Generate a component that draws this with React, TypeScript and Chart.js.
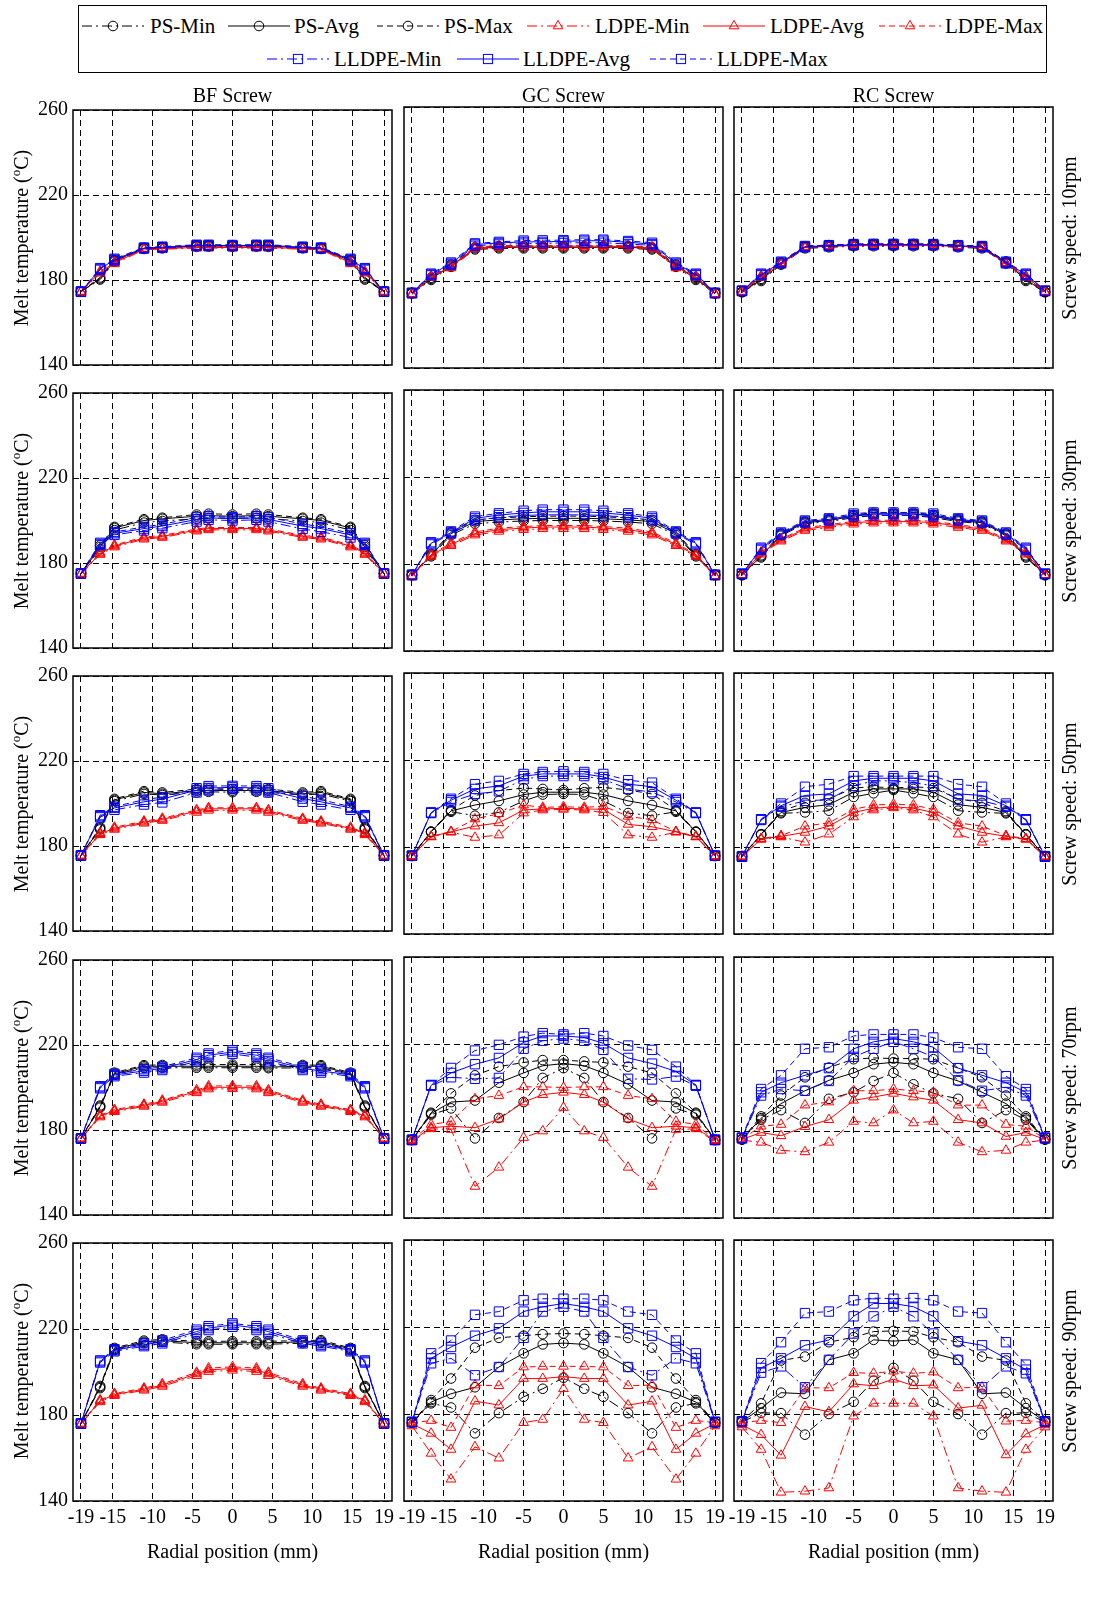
import React, { useEffect, useRef } from 'react';
import { Chart, registerables, ChartConfiguration } from 'chart.js';

Chart.register(...registerables);

const FONT = "'Liberation Serif', 'Times New Roman', serif";

// radial positions of the thermocouples (mm), one set per screw
const xBF = [-19, -16.6, -14.8, -11.1, -8.8, -4.5, -3, 0, 3, 4.5, 8.8, 11.1, 14.8, 16.6, 19];
const xGC = [-19, -16.6, -14.1, -11.1, -8.1, -5, -2.6, 0, 2.6, 5, 8.1, 11.1, 14.1, 16.6, 19];
const xRC = [-19, -16.6, -14.1, -11.1, -8.1, -5, -2.5, 0, 2.5, 5, 8.1, 11.1, 14.1, 16.6, 19];

const xTicks = [-19, -15, -10, -5, 0, 5, 10, 15, 19];
const yTicks = [140, 180, 220, 260];
const screwNames = ['BF Screw', 'GC Screw', 'RC Screw'];
const speedNames = ['10rpm', '30rpm', '50rpm', '70rpm', '90rpm'];

// ---- BF screw ----
const bf10PsMin = [174.5, 180.2, 188.6, 194.6, 194.9, 195.6, 195.7, 195.6, 195.7, 195.6, 194.9, 194.6, 188.6, 180.2, 174.5];
const bf10PsAvg = [174.5, 180.7, 189.0, 194.9, 195.2, 196.0, 196.0, 196.0, 196.0, 196.0, 195.2, 194.9, 189.0, 180.7, 174.5];
const bf10PsMax = [174.6, 181.2, 189.4, 195.2, 195.5, 196.3, 196.4, 196.4, 196.4, 196.3, 195.5, 195.2, 189.4, 181.2, 174.6];
const bf10LdpeMin = [174.3, 183.2, 187.6, 194.3, 194.5, 195.0, 195.0, 195.0, 195.0, 195.0, 194.5, 194.3, 187.6, 183.2, 174.3];
const bf10LdpeAvg = [174.5, 183.7, 188.1, 194.6, 194.8, 195.3, 195.3, 195.3, 195.3, 195.3, 194.8, 194.6, 188.1, 183.7, 174.5];
const bf10LdpeMax = [174.6, 184.1, 188.5, 194.9, 195.1, 195.6, 195.7, 195.6, 195.7, 195.6, 195.1, 194.9, 188.5, 184.1, 174.6];
const bf10LldpeMin = [174.4, 184.8, 189.2, 194.8, 195.1, 196.0, 196.0, 195.9, 196.0, 196.0, 195.1, 194.8, 189.2, 184.8, 174.4];
const bf10LldpeAvg = [174.5, 185.2, 189.6, 195.0, 195.4, 196.3, 196.3, 196.2, 196.3, 196.3, 195.4, 195.0, 189.6, 185.2, 174.5];
const bf10LldpeMax = [174.6, 185.6, 190.0, 195.3, 195.7, 196.6, 196.6, 196.5, 196.6, 196.6, 195.7, 195.3, 190.0, 185.6, 174.6];

const bf30PsMin = [175, 186.5, 195.5, 199, 199.8, 200.8, 201.2, 201, 201.2, 200.8, 199.8, 199, 195.5, 186.5, 175];
const bf30PsAvg = [175, 187.5, 196.5, 200, 200.8, 202, 202.3, 202, 202.3, 202, 200.8, 200, 196.5, 187.5, 175];
const bf30PsMax = [175.2, 188.3, 197, 200.6, 201.3, 202.8, 203.2, 202.8, 203.2, 202.8, 201.3, 200.6, 197, 188.3, 175.2];
const bf30LdpeMin = [174.8, 184, 187.5, 191.2, 192, 195, 195.6, 195.6, 195.6, 195, 192, 191.2, 187.5, 184, 174.8];
const bf30LdpeAvg = [175, 184.5, 188, 191.7, 192.5, 195.5, 196.2, 196.2, 196.2, 195.5, 192.5, 191.7, 188, 184.5, 175];
const bf30LdpeMax = [175.1, 185, 188.5, 192.2, 193, 196, 196.7, 196.7, 196.7, 196, 193, 192.2, 188.5, 185, 175.1];
const bf30LldpeMin = [174.9, 188.5, 193.2, 195.3, 196.4, 199.5, 200.3, 200, 200.3, 199.5, 196, 194.7, 192, 188.5, 174.9];
const bf30LldpeAvg = [175, 189, 194, 196.2, 197.4, 200.5, 201.2, 201, 201.2, 200.5, 197.4, 196.2, 193.2, 189, 175];
const bf30LldpeMax = [175.1, 189.5, 194.6, 197, 198.2, 201.5, 202, 201.5, 202, 201.5, 198.4, 197, 194, 189.5, 175.1];

const bf50PsMin = [175.5, 187.8, 201.1, 204.5, 204, 205.2, 205.5, 205.3, 205.5, 205.2, 204, 204.5, 201.1, 187.8, 175.5];
const bf50PsAvg = [175.5, 188.3, 201.7, 205.2, 204.6, 206, 206.2, 206, 206.2, 206, 204.6, 205.2, 201.7, 188.3, 175.5];
const bf50PsMax = [175.6, 188.8, 202.2, 205.8, 205.2, 206.8, 207, 206.8, 207, 206.8, 205.2, 205.8, 202.2, 188.8, 175.6];
const bf50LdpeMin = [175.3, 185.3, 187.8, 190.7, 192, 195.8, 196.8, 196.8, 196.8, 195.8, 192, 190.7, 187.8, 185.3, 175.3];
const bf50LdpeAvg = [175.5, 185.8, 188.3, 191.2, 192.5, 196.5, 197.5, 197.5, 197.5, 196.5, 192.5, 191.2, 188.3, 185.8, 175.5];
const bf50LdpeMax = [175.6, 186.2, 188.8, 191.7, 193, 197, 198, 198, 198, 197, 193, 191.7, 188.8, 186.2, 175.6];
const bf50LldpeMin = [175.4, 193.5, 197, 199.5, 200.5, 205.2, 206.2, 206.8, 206.2, 205.2, 200.8, 199.5, 197, 193.5, 175.4];
const bf50LldpeAvg = [175.5, 194, 197.9, 200.8, 202.1, 206.3, 207.3, 207.6, 207.3, 206.3, 202.3, 200.8, 197.9, 194, 175.5];
const bf50LldpeMax = [175.6, 194.5, 198.5, 201.8, 203, 207.2, 208.2, 208.3, 208.2, 207.2, 203.4, 201.8, 198.5, 194.5, 175.6];

const bf70PsMin = [176, 190.5, 206, 209.3, 209.3, 209.3, 209.3, 209.3, 209.3, 209.1, 209.3, 209.3, 206, 190.5, 176];
const bf70PsAvg = [176, 191, 206.5, 210, 210, 210, 210, 210, 210, 209.6, 210, 210, 206.5, 191, 176];
const bf70PsMax = [176.1, 191.5, 207, 210.5, 210.6, 210.8, 210.8, 210.8, 210.8, 210.4, 210.6, 210.5, 207, 191.5, 176.1];
const bf70LdpeMin = [175.8, 186.1, 188.6, 191.1, 193, 197.5, 199.3, 199.4, 199.3, 197.5, 193, 191.1, 188.6, 186.1, 175.8];
const bf70LdpeAvg = [176, 186.6, 189.1, 191.6, 193.5, 198.2, 200.1, 200.1, 200.1, 198.2, 193.5, 191.6, 189.1, 186.6, 176];
const bf70LdpeMax = [176.1, 187, 189.6, 192.1, 194, 198.8, 200.7, 200.8, 200.7, 198.8, 194, 192.1, 189.6, 187, 176.1];
const bf70LldpeMin = [175.9, 199.6, 205.3, 207, 208.2, 212.3, 214.3, 215.8, 214.3, 212.3, 208.2, 207, 205.3, 199.6, 175.9];
const bf70LldpeAvg = [176, 200.1, 205.9, 207.8, 209, 213.2, 215.2, 216.7, 215.2, 213.2, 209, 207.8, 205.9, 200.1, 176];
const bf70LldpeMax = [176.1, 200.6, 206.5, 208.6, 209.8, 214, 216, 217.5, 216, 214, 209.8, 208.6, 206.5, 200.6, 176.1];

const bf90PsMin = [176, 192.5, 210.2, 213.4, 214, 212.9, 212.9, 212.9, 212.9, 212.9, 213.4, 213.6, 210.2, 192.5, 176];
const bf90PsAvg = [176, 193, 210.7, 214, 214.6, 213.6, 213.6, 213.6, 213.6, 213.6, 214, 214.2, 210.7, 193, 176];
const bf90PsMax = [176.1, 193.5, 211.2, 214.6, 215.2, 214.3, 214.3, 214.3, 214.3, 214.3, 214.6, 214.8, 211.2, 193.5, 176.1];
const bf90LdpeMin = [175.8, 186.1, 189, 191.5, 193.3, 198.3, 200.2, 200.8, 200.2, 198.3, 193.3, 191.5, 189, 186.1, 175.8];
const bf90LdpeAvg = [176, 186.6, 189.5, 192, 193.9, 199.1, 201, 201.6, 201, 199.1, 193.9, 192, 189.5, 186.6, 176];
const bf90LdpeMax = [176.1, 187, 190, 192.5, 194.5, 199.8, 201.8, 202.4, 201.8, 199.8, 194.5, 192.5, 190, 187, 176.1];
const bf90LldpeMin = [175.9, 204.4, 209.6, 212, 213.3, 217.9, 219.5, 221, 219.5, 217.9, 213.3, 212, 209.6, 204.4, 175.9];
const bf90LldpeAvg = [176, 204.9, 210.1, 212.7, 214, 218.8, 220.4, 221.9, 220.4, 218.8, 214, 212.7, 210.1, 204.9, 176];
const bf90LldpeMax = [176.1, 205.4, 210.6, 213.4, 214.7, 219.7, 221.3, 222.6, 221.3, 219.7, 214.7, 213.4, 210.6, 205.4, 176.1];

// ---- GC screw ----
const gc10PsMin = [174.2, 180.5, 186.5, 194.5, 195, 195, 195, 195, 195, 195, 195, 194.5, 186.5, 180.5, 174.2];
const gc10PsAvg = [174.5, 181, 187, 195, 195.5, 195.5, 195.5, 195.5, 195.5, 195.5, 195.5, 195, 187, 181, 174.5];
const gc10PsMax = [174.6, 181.5, 187.5, 195.5, 196, 196, 196, 196, 196, 196, 196, 195.5, 187.5, 181.5, 174.6];
const gc10LdpeMin = [173.8, 181.6, 186, 194.8, 195.3, 195.5, 195.5, 195.5, 195.5, 195.5, 195.3, 194.8, 186, 181.6, 173.8];
const gc10LdpeAvg = [174, 182, 186.5, 195.3, 195.8, 196, 196, 196, 196, 196, 195.8, 195.3, 186.5, 182, 174];
const gc10LdpeMax = [174.2, 182.4, 187, 195.7, 196.2, 196.4, 196.4, 196.4, 196.4, 196.4, 196.2, 195.7, 187, 182.4, 174.2];
const gc10LldpeMin = [174.3, 182.6, 187.5, 196.2, 196.8, 197.2, 197.3, 197.5, 197.6, 197.6, 197, 196.4, 187.5, 182.6, 174.3];
const gc10LldpeAvg = [174.5, 183, 188, 196.8, 197.5, 198, 198, 198.2, 198.5, 198.5, 197.8, 197, 188, 183, 174.5];
const gc10LldpeMax = [174.6, 183.4, 188.5, 197.3, 198, 198.6, 198.7, 198.8, 199, 199, 198.4, 197.6, 188.5, 183.4, 174.6];

const gc30PsMin = [174.8, 183.5, 193.3, 198.5, 199.3, 199.8, 200, 200, 200, 199.8, 199.3, 198.5, 193.3, 183.5, 174.8];
const gc30PsAvg = [175, 184, 194, 199.5, 200.3, 200.8, 201, 201, 201, 200.8, 200.3, 199.5, 194, 184, 175];
const gc30PsMax = [175.1, 184.5, 194.6, 200.3, 201.2, 201.7, 202, 202, 202, 201.7, 201.2, 200.3, 194.6, 184.5, 175.1];
const gc30LdpeMin = [174.3, 183.5, 188.4, 193.3, 195, 195.8, 196.2, 196.2, 196.2, 195.8, 195, 193.3, 188.4, 183.5, 174.3];
const gc30LdpeAvg = [174.5, 184, 189, 194, 195.8, 196.5, 197, 197, 197, 196.5, 195.8, 194, 189, 184, 174.5];
const gc30LdpeMax = [174.6, 184.5, 189.6, 194.7, 196.5, 197.2, 197.7, 197.7, 197.7, 197.2, 196.5, 194.7, 189.6, 184.5, 174.6];
const gc30LldpeMin = [174.8, 189, 194, 200, 201.5, 202.3, 202.6, 202.6, 202.6, 202.3, 201.5, 200, 194, 189, 174.8];
const gc30LldpeAvg = [175, 189.5, 194.5, 201, 202.5, 203.5, 204, 204, 204, 203.5, 202.5, 201, 194.5, 189.5, 175];
const gc30LldpeMax = [175.1, 190, 195, 201.8, 203.3, 204.5, 205, 205, 205, 204.5, 203.3, 201.8, 195, 190, 175.1];

const gc50PsMin = [175.8, 186.8, 196.2, 194.4, 195.9, 201.2, 204.1, 204.4, 204.1, 201.2, 195.6, 194.4, 196.2, 186.8, 175.8];
const gc50PsAvg = [176, 187, 196.6, 199.3, 201.2, 204.1, 205.2, 205.2, 205.2, 204.1, 201.2, 199.3, 196.6, 187, 176];
const gc50PsMax = [176, 187.1, 197, 203.7, 205.9, 207.1, 206.7, 206.2, 207, 207.4, 206.2, 204.4, 197, 187.1, 176];
const gc50LdpeMin = [175.6, 184.6, 186.8, 184.4, 185.5, 195.6, 197, 197.3, 197, 195.8, 185.5, 184.4, 186.8, 184.6, 175.6];
const gc50LdpeAvg = [175.8, 184.8, 187, 189.6, 191.1, 197, 197.5, 197.8, 197.5, 197.3, 190.4, 189.3, 187, 184.8, 175.8];
const gc50LdpeMax = [176, 184.9, 187.1, 192.9, 195.3, 199.3, 198.2, 198.5, 198.2, 198.8, 194.1, 192.5, 187.1, 184.9, 176];
const gc50LldpeMin = [176, 195.6, 200.7, 204.4, 205.6, 211.1, 212.6, 212.6, 212.6, 211.1, 206.7, 205.2, 200.7, 195.6, 176];
const gc50LldpeAvg = [176, 195.8, 201.5, 206.7, 208.1, 212.6, 213.6, 213.6, 213.6, 212.2, 208.9, 207.7, 201.5, 195.8, 176];
const gc50LldpeMax = [176, 195.9, 202.2, 208.9, 210.4, 213.6, 214.5, 214.8, 214.5, 213.6, 210.7, 209.6, 202.2, 195.9, 176];

const gc70PsMin = [175.8, 187.5, 190.4, 176.6, 186, 193.3, 204.4, 208.9, 204.4, 193.3, 186, 176.6, 190.4, 187.5, 175.8];
const gc70PsAvg = [176, 188, 193.3, 194, 202.2, 206.7, 210, 211, 210, 206.7, 201.5, 194, 193.3, 188, 176];
const gc70PsMax = [176, 188.4, 197.3, 205.6, 209.6, 211.5, 212.6, 212.6, 212, 211.5, 209.6, 206.7, 197.3, 188.4, 176];
const gc70LdpeMin = [175, 181, 180.7, 154.5, 163.3, 177, 180, 190.8, 180, 177, 163.3, 154.5, 180.7, 181, 175];
const gc70LdpeAvg = [175.5, 181.5, 182.2, 181.5, 185.5, 193.3, 196.7, 197.8, 196.7, 193.3, 185.5, 181.5, 182.2, 181.5, 175.5];
const gc70LdpeMax = [176, 183, 184.4, 194.8, 196.3, 200.3, 200.3, 200, 200.3, 200.3, 196.3, 194.8, 184.4, 183, 176];
const gc70LldpeMin = [175.8, 200.8, 204.7, 204, 204.4, 217.8, 221.5, 222.5, 221.5, 217.3, 204, 203.7, 205, 200.8, 175.8];
const gc70LldpeAvg = [176, 201, 206.7, 210.7, 213.6, 220.7, 223.7, 223.7, 223, 220.3, 213.6, 211, 207.4, 201, 176];
const gc70LldpeMax = [176, 201.2, 209, 217, 219.6, 223.4, 225, 224.4, 225, 223.7, 219.3, 217.3, 209.6, 201.2, 176];

const gc90PsMin = [175.8, 184.9, 183, 171.1, 180.4, 187.9, 191.6, 196.7, 191.6, 187.9, 180.4, 171.1, 183, 184.9, 175.8];
const gc90PsAvg = [176, 185.5, 189.3, 192.3, 201.6, 207.9, 212, 212.6, 212, 207.9, 201.6, 192.3, 189.3, 185.5, 176];
const gc90PsMax = [176, 186.4, 196.3, 210.5, 215, 216, 216.7, 217, 216.7, 216, 215, 210.5, 196.3, 186.4, 176];
const gc90LdpeMin = [174.5, 161.9, 150, 164.9, 159.7, 176, 177.5, 191.6, 177.5, 176, 159.7, 164.9, 150, 161.9, 174.5];
const gc90LdpeAvg = [175.5, 171.1, 163.7, 185.9, 184.1, 196.3, 196.3, 197.2, 196.3, 196.3, 184.1, 185.9, 163.7, 171.1, 175.5];
const gc90LdpeMax = [176, 177, 173.8, 193.3, 193, 201.6, 201.9, 201.9, 201.9, 201.6, 193, 193.3, 173.8, 177, 176];
const gc90LldpeMin = [176.2, 203.3, 205.6, 197.8, 201.6, 215, 227.1, 229.3, 227.1, 215, 201.6, 197.8, 205.6, 203.3, 176.2];
const gc90LldpeAvg = [176.4, 205.6, 210.8, 216, 219.4, 227.1, 229.3, 230.8, 229.3, 227.1, 219.4, 216, 210.8, 205.6, 176.4];
const gc90LldpeMax = [176.4, 207.9, 213.8, 225.6, 227.1, 232.3, 233, 233, 233, 232.3, 227.1, 225.6, 213.8, 207.9, 176.4];

// ---- RC screw ----
const rc10PsMin = [174.8, 180, 187.5, 195, 195.5, 196, 196, 196, 196, 196, 195.5, 195, 188, 180, 174.8];
const rc10PsAvg = [175, 180.5, 188, 195.5, 196, 196.5, 196.5, 196.5, 196.5, 196.5, 196, 195.5, 188.5, 180.5, 175];
const rc10PsMax = [175.1, 181, 188.5, 196, 196.5, 197, 197, 197, 197, 197, 196.5, 196, 189, 181, 175.1];
const rc10LdpeMin = [174.7, 181.6, 187.6, 195.2, 195.7, 196, 196, 196, 196, 196, 195.7, 195.2, 187.6, 181.6, 174.7];
const rc10LdpeAvg = [175, 182, 188, 195.5, 196, 196.3, 196.3, 196.3, 196.3, 196.3, 196, 195.5, 188, 182, 175];
const rc10LdpeMax = [175.2, 182.4, 188.4, 195.8, 196.3, 196.6, 196.6, 196.6, 196.6, 196.6, 196.3, 195.8, 188.4, 182.4, 175.2];
const rc10LldpeMin = [175.3, 182.6, 188.1, 195.5, 195.9, 196.4, 196.5, 196.5, 196.5, 196.4, 195.9, 195.5, 188.1, 182.6, 175.3];
const rc10LldpeAvg = [175.5, 183, 188.5, 195.8, 196.2, 196.7, 196.8, 196.8, 196.8, 196.7, 196.2, 195.8, 188.5, 183, 175.5];
const rc10LldpeMax = [175.6, 183.4, 188.9, 196.1, 196.5, 197, 197.1, 197.1, 197.1, 197, 196.5, 196.1, 188.9, 183.4, 175.6];

const rc30PsMin = [174.8, 183, 193, 198.5, 199.5, 201.3, 202.3, 202.3, 202.3, 201.3, 199.5, 198.5, 193, 183, 174.8];
const rc30PsAvg = [175, 183.5, 193.5, 199, 200, 202, 203, 203, 203, 202, 200, 199, 193.5, 183.5, 175];
const rc30PsMax = [175.1, 184, 194, 199.5, 200.5, 202.6, 203.6, 203.6, 203.6, 202.6, 200.5, 199.5, 194, 184, 175.1];
const rc30LdpeMin = [174.8, 184.5, 190.5, 195.4, 196.8, 198.3, 198.8, 198.8, 198.8, 198.3, 196.8, 195.4, 190.5, 184.5, 174.8];
const rc30LdpeAvg = [175, 185, 191, 196, 197.5, 199, 199.5, 199.5, 199.5, 199, 197.5, 196, 191, 185, 175];
const rc30LdpeMax = [175.1, 185.5, 191.5, 196.6, 198.1, 199.6, 200.1, 200.1, 200.1, 199.6, 198.1, 196.6, 191.5, 185.5, 175.1];
const rc30LldpeMin = [175.3, 186.5, 193.5, 199, 200, 201.8, 202.3, 202.3, 202.3, 201.8, 200, 199, 193.5, 186.5, 175.3];
const rc30LldpeAvg = [175.5, 187, 194, 199.5, 200.5, 202.5, 203, 203, 203, 202.5, 200.5, 199.5, 194, 187, 175.5];
const rc30LldpeMax = [175.6, 187.5, 194.5, 200, 201, 203.2, 203.7, 203.7, 203.7, 203.2, 201, 200, 194.5, 187.5, 175.6];

const rc50PsMin = [175.5, 185.6, 195.5, 195.9, 196.7, 203, 204.7, 206.2, 204.7, 203, 196.7, 195.9, 195.5, 185.6, 175.5];
const rc50PsAvg = [175.6, 185.8, 195.9, 198.2, 199.5, 205.2, 206.7, 206.7, 206.7, 205.2, 199.5, 198.2, 195.9, 185.8, 175.6];
const rc50PsMax = [175.8, 185.9, 196.5, 200.3, 202.2, 207.1, 207.7, 207.1, 207.7, 207.1, 202.2, 200.3, 196.5, 185.9, 175.8];
const rc50LdpeMin = [175.5, 183.5, 184.6, 182.2, 185.9, 193.8, 197, 198, 197, 193.8, 185.9, 182.2, 184.6, 183.5, 175.5];
const rc50LdpeAvg = [175.6, 183.7, 184.9, 186.7, 189.6, 195.9, 197.8, 198.5, 197.8, 195.9, 189.6, 186.7, 184.9, 183.7, 175.6];
const rc50LdpeMax = [175.8, 183.9, 185.2, 189.6, 191.1, 197.3, 199.3, 199.7, 199.3, 197.3, 191.1, 189.6, 185.2, 183.9, 175.8];
const rc50LldpeMin = [175.5, 192.4, 198.5, 201.2, 201.8, 208.1, 210.4, 210.4, 209.6, 208.1, 201.8, 201.2, 198.5, 192.4, 175.5];
const rc50LldpeAvg = [175.6, 192.6, 199, 203.7, 204.4, 210.4, 211.6, 211.6, 211.6, 210.4, 204.4, 203.7, 199, 192.6, 175.6];
const rc50LldpeMax = [175.8, 192.8, 200, 207.7, 208.9, 212.6, 212.6, 212.6, 212.6, 212.6, 208.9, 207.7, 200, 192.8, 175.8];

const rc70PsMin = [176, 185.2, 189.6, 183.7, 194.8, 197.8, 203, 206.7, 201.5, 197.3, 194.8, 183.7, 189.6, 185.2, 176];
const rc70PsAvg = [176.2, 185.9, 192.6, 198.5, 203.3, 206.7, 210.7, 211.6, 210.7, 206.7, 203, 197.8, 192.6, 185.9, 176.2];
const rc70PsMax = [176.3, 186.7, 196.3, 204.7, 209.2, 213, 213.6, 213.3, 213.3, 213, 208.9, 204.7, 196.3, 186.7, 176.3];
const rc70LdpeMin = [175.8, 174.8, 171.1, 170.4, 174.8, 184.4, 183.7, 189.6, 183.7, 184.4, 174.8, 170.4, 171.1, 174.8, 175.8];
const rc70LdpeAvg = [176.1, 179.3, 177.8, 182, 185.2, 194.1, 195.6, 197.3, 195.6, 194.1, 185.2, 183.7, 177.5, 179.3, 176.1];
const rc70LdpeMax = [176.3, 182.2, 183, 191.9, 193.3, 198.5, 198.5, 199.3, 198.5, 197.8, 191.9, 191.9, 183, 182.2, 176.3];
const rc70LldpeMin = [176.6, 196.3, 199.3, 198.5, 203, 214.1, 217.8, 221, 217.8, 214.1, 203.3, 198.5, 200, 196.3, 176.6];
const rc70LldpeAvg = [176.8, 197.8, 202.2, 205.6, 208.9, 217.8, 221, 222.5, 221, 218.5, 208.9, 205.6, 202.2, 197.8, 176.8];
const rc70LldpeMax = [177, 199.3, 205.6, 217.8, 218.5, 223.7, 224.4, 224.4, 224.4, 223, 218.5, 217.8, 205.2, 199.3, 177];

const rc90PsMin = [176.3, 180.5, 180.4, 170.5, 180, 185.6, 195.3, 201.2, 195.3, 185.6, 180, 170.5, 180.4, 180.5, 176.3];
const rc90PsAvg = [176.5, 182.7, 189.8, 189.3, 204.9, 207.9, 214.1, 213.5, 214.1, 207.9, 204.9, 189.3, 189.8, 182.7, 176.5];
const rc90PsMax = [176.7, 184.9, 204.6, 206.4, 213, 215.3, 217.9, 218.2, 217.9, 215.3, 213, 206.4, 204.6, 184.9, 176.7];
const rc90LdpeMin = [174, 163.7, 144, 144.5, 146, 179, 184.9, 184.9, 184.9, 179, 146, 144.5, 144, 163.7, 174];
const rc90LdpeAvg = [175, 170.5, 161, 183.4, 181, 193.8, 193, 196, 193, 193.3, 182.7, 184, 161.2, 170.8, 175];
const rc90LdpeMax = [176, 177, 176, 192, 192, 199, 198.7, 199.7, 198.7, 199.3, 192, 192.3, 176.7, 177, 176];
const rc90LldpeMin = [176.5, 199, 201.9, 192.3, 204.9, 217, 224.9, 229.3, 224.9, 217, 204.9, 192.3, 201.9, 198.7, 176.5];
const rc90LldpeAvg = [176.6, 201.2, 205.6, 211.6, 214, 224.9, 230.8, 230.8, 229.3, 224.9, 213.5, 211.6, 205.6, 200.4, 176.6];
const rc90LldpeMax = [176.7, 203.4, 213, 226.4, 227.1, 232.3, 233.3, 233, 233.3, 232.3, 227.1, 226.4, 213, 202.7, 176.7];

type Trio = [number[], number[], number[]]; // min, avg, max
interface PanelData { x: number[]; ps: Trio; ldpe: Trio; lldpe: Trio }

const panels: PanelData[][] = [
  [
    { x: xBF, ps: [bf10PsMin, bf10PsAvg, bf10PsMax], ldpe: [bf10LdpeMin, bf10LdpeAvg, bf10LdpeMax], lldpe: [bf10LldpeMin, bf10LldpeAvg, bf10LldpeMax] },
    { x: xGC, ps: [gc10PsMin, gc10PsAvg, gc10PsMax], ldpe: [gc10LdpeMin, gc10LdpeAvg, gc10LdpeMax], lldpe: [gc10LldpeMin, gc10LldpeAvg, gc10LldpeMax] },
    { x: xRC, ps: [rc10PsMin, rc10PsAvg, rc10PsMax], ldpe: [rc10LdpeMin, rc10LdpeAvg, rc10LdpeMax], lldpe: [rc10LldpeMin, rc10LldpeAvg, rc10LldpeMax] },
  ],
  [
    { x: xBF, ps: [bf30PsMin, bf30PsAvg, bf30PsMax], ldpe: [bf30LdpeMin, bf30LdpeAvg, bf30LdpeMax], lldpe: [bf30LldpeMin, bf30LldpeAvg, bf30LldpeMax] },
    { x: xGC, ps: [gc30PsMin, gc30PsAvg, gc30PsMax], ldpe: [gc30LdpeMin, gc30LdpeAvg, gc30LdpeMax], lldpe: [gc30LldpeMin, gc30LldpeAvg, gc30LldpeMax] },
    { x: xRC, ps: [rc30PsMin, rc30PsAvg, rc30PsMax], ldpe: [rc30LdpeMin, rc30LdpeAvg, rc30LdpeMax], lldpe: [rc30LldpeMin, rc30LldpeAvg, rc30LldpeMax] },
  ],
  [
    { x: xBF, ps: [bf50PsMin, bf50PsAvg, bf50PsMax], ldpe: [bf50LdpeMin, bf50LdpeAvg, bf50LdpeMax], lldpe: [bf50LldpeMin, bf50LldpeAvg, bf50LldpeMax] },
    { x: xGC, ps: [gc50PsMin, gc50PsAvg, gc50PsMax], ldpe: [gc50LdpeMin, gc50LdpeAvg, gc50LdpeMax], lldpe: [gc50LldpeMin, gc50LldpeAvg, gc50LldpeMax] },
    { x: xRC, ps: [rc50PsMin, rc50PsAvg, rc50PsMax], ldpe: [rc50LdpeMin, rc50LdpeAvg, rc50LdpeMax], lldpe: [rc50LldpeMin, rc50LldpeAvg, rc50LldpeMax] },
  ],
  [
    { x: xBF, ps: [bf70PsMin, bf70PsAvg, bf70PsMax], ldpe: [bf70LdpeMin, bf70LdpeAvg, bf70LdpeMax], lldpe: [bf70LldpeMin, bf70LldpeAvg, bf70LldpeMax] },
    { x: xGC, ps: [gc70PsMin, gc70PsAvg, gc70PsMax], ldpe: [gc70LdpeMin, gc70LdpeAvg, gc70LdpeMax], lldpe: [gc70LldpeMin, gc70LldpeAvg, gc70LldpeMax] },
    { x: xRC, ps: [rc70PsMin, rc70PsAvg, rc70PsMax], ldpe: [rc70LdpeMin, rc70LdpeAvg, rc70LdpeMax], lldpe: [rc70LldpeMin, rc70LldpeAvg, rc70LldpeMax] },
  ],
  [
    { x: xBF, ps: [bf90PsMin, bf90PsAvg, bf90PsMax], ldpe: [bf90LdpeMin, bf90LdpeAvg, bf90LdpeMax], lldpe: [bf90LldpeMin, bf90LldpeAvg, bf90LldpeMax] },
    { x: xGC, ps: [gc90PsMin, gc90PsAvg, gc90PsMax], ldpe: [gc90LdpeMin, gc90LdpeAvg, gc90LdpeMax], lldpe: [gc90LldpeMin, gc90LldpeAvg, gc90LldpeMax] },
    { x: xRC, ps: [rc90PsMin, rc90PsAvg, rc90PsMax], ldpe: [rc90LdpeMin, rc90LdpeAvg, rc90LdpeMax], lldpe: [rc90LldpeMin, rc90LldpeAvg, rc90LldpeMax] },
  ],
];

// series styles (LLDPE listed first so it is drawn on top)
const materials = [
  { key: 'lldpe' as const, name: 'LLDPE', color: '#0000ff', marker: 'rect', radius: 6.6 },
  { key: 'ldpe' as const, name: 'LDPE', color: '#ff0000', marker: 'triangle', radius: 5.6 },
  { key: 'ps' as const, name: 'PS', color: '#000000', marker: 'circle', radius: 4.8 },
];
const stats = [
  { name: 'Min', dash: [10, 4, 2, 4] },
  { name: 'Avg', dash: [] as number[] },
  { name: 'Max', dash: [6, 4] },
];

// layout (px)
const PLOT_W = 319;
const PLOT_H = 261;
const colLeft = [73, 404, 734];
const rowTop = [107, 390, 673, 957, 1240];
const PADX = 18;
const PADY = 14;

const boxPlugin = {
  id: 'panelBox',
  afterDraw(chart: Chart) {
    const { ctx, chartArea: a } = chart;
    ctx.save();
    ctx.strokeStyle = '#000';
    ctx.lineWidth = 1.5;
    ctx.setLineDash([]);
    ctx.strokeRect(a.left, a.top, a.right - a.left, a.bottom - a.top);
    ctx.restore();
  },
};

const Panel: React.FC<{ data: PanelData; row: number; col: number }> = ({ data, row, col }) => {
  const canvasRef = useRef<HTMLCanvasElement>(null);
  const leftPad = col === 0 ? 46 : 0;
  const bottomPad = row === 4 ? 30 : 0;
  const width = PLOT_W + leftPad + 2 * PADX;
  const height = PLOT_H + bottomPad + 2 * PADY;

  useEffect(() => {
    if (!canvasRef.current) return;
    const datasets: any[] = [];
    materials.forEach((m) => {
      const trio = data[m.key];
      stats.forEach((s, si) => {
        datasets.push({
          label: `${m.name}-${s.name}`,
          data: data.x.map((x, i) => ({ x, y: trio[si][i] })),
          borderColor: m.color,
          borderWidth: 1,
          borderDash: s.dash,
          pointStyle: m.marker,
          pointRadius: m.radius,
          pointBorderColor: m.color,
          pointBackgroundColor: 'rgba(0,0,0,0)',
          pointBorderWidth: 1,
          tension: 0,
          fill: false,
        });
      });
    });

    const tickFont = { family: FONT, size: 20 };
    const config: ChartConfiguration<'line'> = {
      type: 'line',
      data: { datasets },
      options: {
        animation: false,
        responsive: false,
        events: [],
        layout: { padding: { left: PADX, right: PADX, top: PADY, bottom: PADY } },
        plugins: { legend: { display: false }, tooltip: { enabled: false } },
        scales: {
          x: {
            type: 'linear',
            min: -20,
            max: 20,
            afterBuildTicks: (axis: any) => { axis.ticks = xTicks.map((v) => ({ value: v })); },
            afterFit: (axis: any) => { axis.height = bottomPad; },
            ticks: { display: row === 4, font: tickFont, color: '#000', padding: 5, maxRotation: 0, minRotation: 0, autoSkip: false },
            grid: { color: '#000', lineWidth: 1, drawTicks: false },
            border: { display: false, dash: [6, 4] },
          },
          y: {
            type: 'linear',
            min: 140,
            max: 260,
            afterBuildTicks: (axis: any) => { axis.ticks = yTicks.map((v) => ({ value: v })); },
            afterFit: (axis: any) => { axis.width = leftPad; },
            ticks: { display: col === 0, font: tickFont, color: '#000', padding: 5 },
            grid: { color: '#000', lineWidth: 1, drawTicks: false },
            border: { display: false, dash: [6, 4] },
          },
        },
      },
      plugins: [boxPlugin],
    };
    const chart = new Chart(canvasRef.current, config);
    return () => chart.destroy();
  }, [data, row, col, leftPad, bottomPad]);

  return (
    <canvas
      ref={canvasRef}
      width={width}
      height={height}
      style={{ position: 'absolute', left: colLeft[col] - leftPad - PADX, top: rowTop[row] - PADY, width, height }}
    />
  );
};

// legend entries: sample left edge, text left edge, row centre
const legendItems = [
  { mat: 2, stat: 0, sx: 82, tx: 150, cy: 26 },
  { mat: 2, stat: 1, sx: 228, tx: 294, cy: 26 },
  { mat: 2, stat: 2, sx: 377, tx: 444, cy: 26 },
  { mat: 1, stat: 0, sx: 527, tx: 595, cy: 26 },
  { mat: 1, stat: 1, sx: 703, tx: 770, cy: 26 },
  { mat: 1, stat: 2, sx: 879, tx: 945, cy: 26 },
  { mat: 0, stat: 0, sx: 267, tx: 334, cy: 59 },
  { mat: 0, stat: 1, sx: 457, tx: 523, cy: 59 },
  { mat: 0, stat: 2, sx: 650, tx: 717, cy: 59 },
];

const LegendMarker: React.FC<{ mat: number }> = ({ mat }) => {
  const m = materials[mat];
  if (m.marker === 'circle') return <circle cx={31} cy={8} r={4.8} fill="none" stroke={m.color} strokeWidth={1} />;
  if (m.marker === 'triangle') return <polygon points="31,2.4 35.8,10.8 26.2,10.8" fill="none" stroke={m.color} strokeWidth={1} />;
  return <rect x={26.4} y={3.4} width={9.2} height={9.2} fill="none" stroke={m.color} strokeWidth={1} />;
};

const textStyle: React.CSSProperties = { position: 'absolute', fontFamily: FONT, fontSize: 20, color: '#000', whiteSpace: 'nowrap', lineHeight: '22px' };

const App: React.FC = () => {
  useEffect(() => {
    document.body.style.margin = '0';
  }, []);

  return (
    <div style={{ position: 'relative', width: 1108, height: 1601, background: '#fff', overflow: 'hidden' }}>
      {/* legend */}
      <div style={{ position: 'absolute', left: 78, top: 5, width: 969, height: 68, border: '1.5px solid #000', boxSizing: 'border-box' }} />
      {legendItems.map((it, i) => {
        const m = materials[it.mat];
        const s = stats[it.stat];
        return (
          <React.Fragment key={i}>
            <svg width={62} height={16} style={{ position: 'absolute', left: it.sx, top: it.cy - 8 }}>
              <line x1={0} y1={8} x2={62} y2={8} stroke={m.color} strokeWidth={1} strokeDasharray={s.dash.length ? s.dash.join(' ') : undefined} />
              <LegendMarker mat={it.mat} />
            </svg>
            <div style={{ ...textStyle, fontSize: 21, left: it.tx, top: it.cy - 12, lineHeight: '24px' }}>{`${m.name}-${s.name}`}</div>
          </React.Fragment>
        );
      })}

      {/* panels */}
      {panels.map((rowData, r) => rowData.map((p, c) => <Panel key={`${r}-${c}`} data={p} row={r} col={c} />))}

      {/* column titles */}
      {screwNames.map((name, c) => (
        <div key={name} style={{ ...textStyle, left: colLeft[c], width: PLOT_W, textAlign: 'center', top: rowTop[0] - 23 }}>{name}</div>
      ))}

      {/* y titles and speed labels */}
      {speedNames.map((sp, r) => (
        <React.Fragment key={sp}>
          <div style={{ ...textStyle, left: 22, top: rowTop[r] + PLOT_H / 2, transform: 'translate(-50%, -50%) rotate(-90deg)' }}>
            Melt temperature (<span style={{ fontSize: 13, position: 'relative', top: -8 }}>o</span>C)
          </div>
          <div style={{ ...textStyle, left: 1069, top: rowTop[r] + PLOT_H / 2, transform: 'translate(-50%, -50%) rotate(-90deg)' }}>
            {`Screw speed: ${sp}`}
          </div>
        </React.Fragment>
      ))}

      {/* x titles */}
      {screwNames.map((name, c) => (
        <div key={`xt-${name}`} style={{ ...textStyle, left: colLeft[c], width: PLOT_W, textAlign: 'center', top: 1540 }}>Radial position (mm)</div>
      ))}
    </div>
  );
};

export default App;
